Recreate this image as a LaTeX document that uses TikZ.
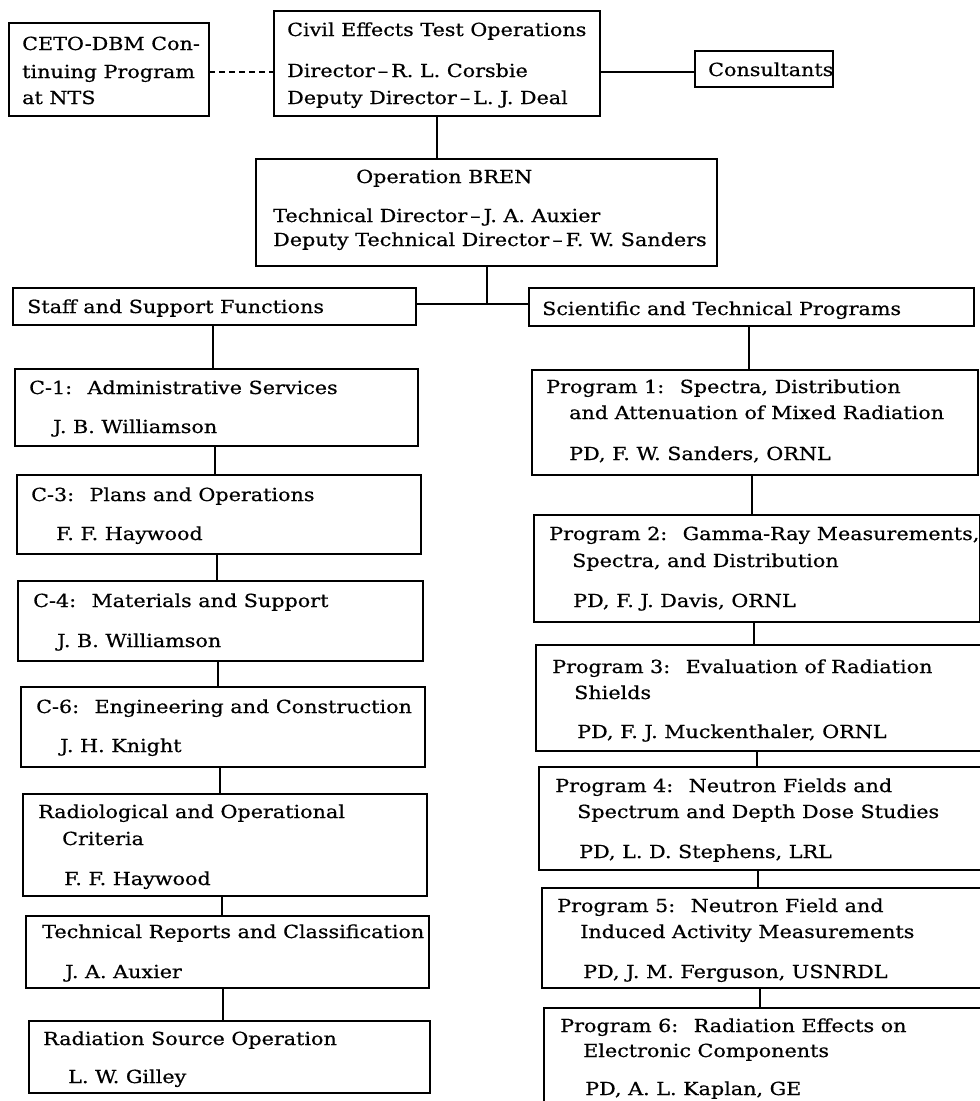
\documentclass[tikz,border=0pt]{standalone}
\usepackage{fontspec}
\setmainfont{DejaVu Serif}[FakeStretch=1.15, FakeBold=0.6]
\begin{document}
\begin{tikzpicture}[x=1pt,y=-1pt,
  box/.style={draw, line width=1.7pt, anchor=north west, inner sep=0pt, outer sep=0pt},
  txt/.style={anchor=base west, inner sep=0pt, font=\fontsize{18}{21}\selectfont},
  link/.style={line width=1.7pt},
  dashlink/.style={line width=1.4pt, dash pattern=on 6pt off 4pt}]
\useasboundingbox (0,0) rectangle (980,1101);
\clip (0,0) rectangle (980,1101);
\fill[white] (0,0) rectangle (980,1101);
% boxes
\node[box, minimum width=200pt, minimum height=93pt] (ceto) at (9,23) {};
\node[box, minimum width=326pt, minimum height=105pt] (civil) at (274,11) {};
\node[box, minimum width=138pt, minimum height=36pt] (cons) at (695,51) {};
\node[box, minimum width=461pt, minimum height=107pt] (bren) at (256,159) {};
\node[box, minimum width=403pt, minimum height=37pt] (staff) at (13,288) {};
\node[box, minimum width=445pt, minimum height=38pt] (sci) at (529,288) {};
\node[box, minimum width=403pt, minimum height=77pt] (c1) at (15,369) {};
\node[box, minimum width=404pt, minimum height=79pt] (c3) at (17,475) {};
\node[box, minimum width=405pt, minimum height=80pt] (c4) at (18,581) {};
\node[box, minimum width=404pt, minimum height=80pt] (c6) at (21,687) {};
\node[box, minimum width=404pt, minimum height=102pt] (rad) at (23,794) {};
\node[box, minimum width=403pt, minimum height=72pt] (tech) at (26,916) {};
\node[box, minimum width=401pt, minimum height=72pt] (src) at (29,1021) {};
\node[box, minimum width=446pt, minimum height=105pt] (p1) at (532,370) {};
\node[box, minimum width=446pt, minimum height=107pt] (p2) at (534,515) {};
\node[box, minimum width=448pt, minimum height=106pt] (p3) at (536,645) {};
\node[box, minimum width=447pt, minimum height=103pt] (p4) at (539,767) {};
\node[box, minimum width=446pt, minimum height=100pt] (p5) at (542,888) {};
\node[box, minimum width=446pt, minimum height=112pt] (p6) at (544,1008) {};
% texts
\node[txt] (t1) at (22,50) {CETO-DBM Con-};
\node[txt] (t2) at (22,78) {tinuing Program};
\node[txt] (t3) at (22,104) {at NTS};
\node[txt] (t4) at (287,36) {Civil Effects Test Operations};
\node[txt] (t5) at (287,77) {Director\,–\,R. L. Corsbie};
\node[txt] (t6) at (287,104) {Deputy Director\,–\,L. J. Deal};
\node[txt] (t7) at (708,76) {Consultants};
\node[txt] (t8) at (356,183) {Operation BREN};
\node[txt] (t9) at (273,222) {Technical Director\,–\,J. A. Auxier};
\node[txt] (t10) at (273,246) {Deputy Technical Director\,–\,F. W. Sanders};
\node[txt] (t11) at (27,313) {Staff and Support Functions};
\node[txt] (t12) at (542,315) {Scientific and Technical Programs};
\node[txt] (t13) at (29,394) {C-1:~ Administrative Services};
\node[txt] (t14) at (53,433) {J. B. Williamson};
\node[txt] (t15) at (31,501) {C-3:~ Plans and Operations};
\node[txt] (t16) at (56,540) {F. F. Haywood};
\node[txt] (t17) at (33,607) {C-4:~ Materials and Support};
\node[txt] (t18) at (57,647) {J. B. Williamson};
\node[txt] (t19) at (36,713) {C-6:~ Engineering and Construction};
\node[txt] (t20) at (60,752) {J. H. Knight};
\node[txt] (t21) at (38,818) {Radiological and Operational};
\node[txt] (t22) at (62,845) {Criteria};
\node[txt] (t23) at (64,885) {F. F. Haywood};
\node[txt] (t24) at (42,938) {Technical Reports and Classification};
\node[txt] (t25) at (65,978) {J. A. Auxier};
\node[txt] (t26) at (43,1045) {Radiation Source Operation};
\node[txt] (t27) at (68,1083) {L. W. Gilley};
\node[txt] (t28) at (546,393) {Program 1:~ Spectra, Distribution};
\node[txt] (t29) at (569,419) {and Attenuation of Mixed Radiation};
\node[txt] (t30) at (569,460) {PD, F. W. Sanders, ORNL};
\node[txt] (t31) at (549,540) {Program 2:~ Gamma-Ray Measurements,};
\node[txt] (t32) at (572,567) {Spectra, and Distribution};
\node[txt] (t33) at (573,607) {PD, F. J. Davis, ORNL};
\node[txt] (t34) at (552,673) {Program 3:~ Evaluation of Radiation};
\node[txt] (t35) at (574,699) {Shields};
\node[txt] (t36) at (577,738) {PD, F. J. Muckenthaler, ORNL};
\node[txt] (t37) at (555,792) {Program 4:~ Neutron Fields and};
\node[txt] (t38) at (577,818) {Spectrum and Depth Dose Studies};
\node[txt] (t39) at (579,858) {PD, L. D. Stephens, LRL};
\node[txt] (t40) at (557,912) {Program 5:~ Neutron Field and};
\node[txt] (t41) at (580,938) {Induced Activity Measurements};
\node[txt] (t42) at (583,978) {PD, J. M. Ferguson, USNRDL};
\node[txt] (t43) at (560,1032) {Program 6:~ Radiation Effects on};
\node[txt] (t44) at (583,1057) {Electronic Components};
\node[txt] (t45) at (585,1095) {PD, A. L. Kaplan, GE};
% connectors
\coordinate (jn) at (487,304);
\draw[dashlink] (ceto.east |- 0,72) -- (civil.west |- 0,72);
\draw[link] (civil.east |- 0,72) -- (cons.west |- 0,72);
\draw[link] (civil.south -| 437,0) -- (bren.north -| 437,0);
\draw[link] (bren.south -| jn) -- (jn);
\draw[link] (staff.east |- jn) -- (sci.west |- jn);
\draw[link] (staff.south -| 213,0) -- (c1.north -| 213,0);
\draw[link] (c1.south -| 215,0) -- (c3.north -| 215,0);
\draw[link] (c3.south -| 217,0) -- (c4.north -| 217,0);
\draw[link] (c4.south -| 218,0) -- (c6.north -| 218,0);
\draw[link] (c6.south -| 220,0) -- (rad.north -| 220,0);
\draw[link] (rad.south -| 222,0) -- (tech.north -| 222,0);
\draw[link] (tech.south -| 223,0) -- (src.north -| 223,0);
\draw[link] (sci.south -| 749,0) -- (p1.north -| 749,0);
\draw[link] (p1.south -| 752,0) -- (p2.north -| 752,0);
\draw[link] (p2.south -| 754,0) -- (p3.north -| 754,0);
\draw[link] (p3.south -| 757,0) -- (p4.north -| 757,0);
\draw[link] (p4.south -| 758,0) -- (p5.north -| 758,0);
\draw[link] (p5.south -| 760,0) -- (p6.north -| 760,0);
\end{tikzpicture}
\end{document}
